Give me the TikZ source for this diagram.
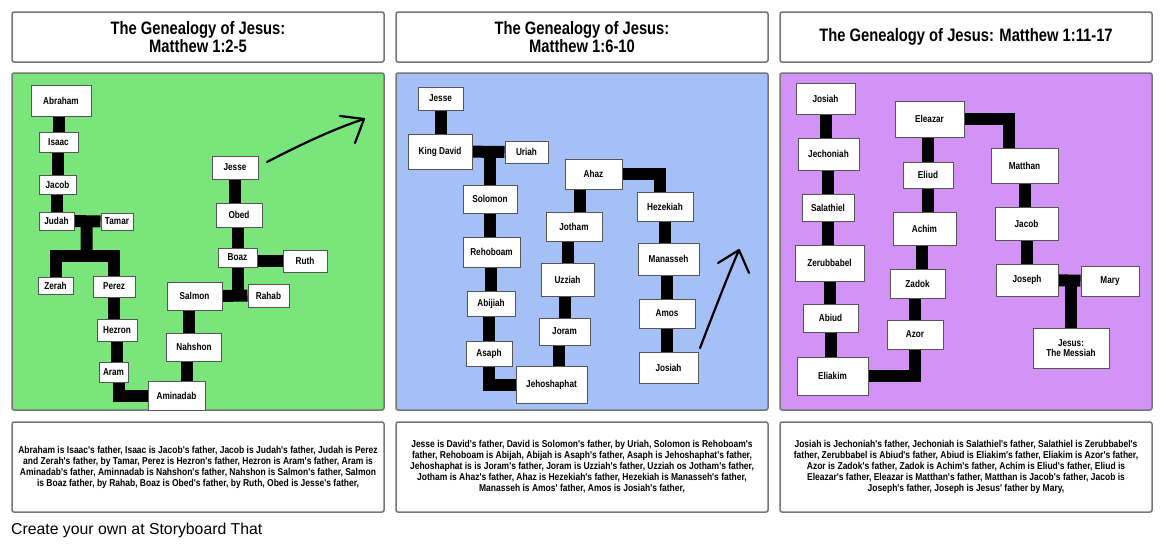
\documentclass[tikz,border=0pt]{standalone}
\usepackage{fontspec}
\setmainfont[FakeStretch=0.82]{Liberation Sans}
\newfontfamily\bodyfont[FakeStretch=0.85]{Liberation Sans}
\newfontfamily\footfont{Liberation Sans}
\usetikzlibrary{calc}
\pgfdeclarelayer{bg}\pgfdeclarelayer{mid}\pgfsetlayers{bg,mid,main}
\definecolor{pgreen}{RGB}{121,229,122}
\definecolor{pblue}{RGB}{165,192,247}
\definecolor{ppurple}{RGB}{210,146,246}
\definecolor{framegray}{RGB}{118,118,118}
\definecolor{boxedge}{RGB}{85,85,85}
\begin{document}
\begin{tikzpicture}[x=1pt,y=-1pt,
  pn/.style={draw=boxedge, line width=1pt, fill=white, inner sep=0pt, align=center,
    font=\bfseries\fontsize{10}{10}\selectfont},
  sz/.style 2 args={minimum width=#1pt, minimum height=#2pt},
  frame/.style={draw=framegray, line width=1.5pt, rounded corners=2pt},
  conn/.style={line width=12pt, line join=miter, black},
  hand/.style={line width=2.2pt, line cap=round, line join=round, black},
  ttl/.style={font=\bfseries\fontsize{18}{18}\selectfont, align=center},
  tb/.style={font=\bodyfont\bfseries\fontsize{10}{11}\selectfont, align=center}]
\useasboundingbox (0,0) rectangle (1165,550);
\begin{pgfonlayer}{bg}
\fill[white] (0,0) rectangle (1165,550);
\draw[frame, fill=white] (12,12) rectangle (384,62);
\draw[frame, fill=white] (396,12) rectangle (768,62);
\draw[frame, fill=white] (780,12) rectangle (1152,62);
\draw[frame, fill=pgreen] (12,73) rectangle (384,410);
\draw[frame, fill=pblue] (396,73) rectangle (768,410);
\draw[frame, fill=ppurple] (780,73) rectangle (1152,410);
\draw[frame, fill=white] (12,422) rectangle (384,512);
\draw[frame, fill=white] (396,422) rectangle (768,512);
\draw[frame, fill=white] (780,422) rectangle (1152,512);
\end{pgfonlayer}

% titles
\node[ttl] (t1) at (198,37) {The Genealogy of Jesus:\\Matthew 1:2-5};
\node[ttl] (t2) at (582,37) {The Genealogy of Jesus:\\Matthew 1:6-10};
\node[ttl] (t3) at (966,37) {The Genealogy of Jesus: Matthew 1:11-17};

% ---------- panel 1 ----------
\node[pn, sz={60}{31}] (abr) at (61,100.5) {Abraham};
\node[pn, sz={39}{20}] (isaac) at (58.5,142) {Isaac};
\node[pn, sz={37}{19}] (jacob1) at (57.5,184.5) {Jacob};
\node[pn, sz={35}{18}] (judah) at (56.5,221) {Judah};
\node[pn, sz={32}{17}] (tamar) at (117,221.5) {Tamar};
\node[pn, sz={35}{17}] (zerah) at (55.5,285.5) {Zerah};
\node[pn, sz={42}{21}] (perez) at (114,286.5) {Perez};
\node[pn, sz={40}{22}] (hezron) at (117,330) {Hezron};
\node[pn, sz={29}{20}] (aram) at (113.5,372) {Aram};
\node[pn, sz={57}{29}] (amin) at (176.5,396) {Aminadab};
\node[pn, sz={55}{28}] (salmon) at (194.5,296) {Salmon};
\node[pn, sz={55}{28}] (nahshon) at (194,347) {Nahshon};
\node[pn, sz={46}{23}] (jesse1) at (235,167.5) {Jesse};
\node[pn, sz={46}{24}] (obed) at (239,215) {Obed};
\node[pn, sz={39}{19}] (boaz) at (237.5,257.5) {Boaz};
\node[pn, sz={44}{22}] (ruth) at (305,261) {Ruth};
\node[pn, sz={41}{23}] (rahab) at (268.5,295.5) {Rahab};
\coordinate (split1) at (86.5,255.5);
\coordinate (ar) at ([xshift=5.5pt]aram.center);

% ---------- panel 2 ----------
\node[pn, sz={45}{23}] (jesse2) at (440.5,98.5) {Jesse};
\node[pn, sz={64}{35}] (david) at (440,151.5) {King David};
\node[pn, sz={43}{22}] (uriah) at (526.5,152) {Uriah};
\node[pn, sz={54}{28}] (solomon) at (490,199) {Solomon};
\node[pn, sz={57}{30}] (rehoboam) at (491.5,252) {Rehoboam};
\node[pn, sz={48}{25}] (abijiah) at (491,303.5) {Abijiah};
\node[pn, sz={46}{25}] (asaph) at (489,353.5) {Asaph};
\node[pn, sz={71}{37}] (jehosh) at (551.5,384.5) {Jehoshaphat};
\node[pn, sz={51}{27}] (joram) at (564.5,331.5) {Joram};
\node[pn, sz={53}{33}] (uzziah) at (567.5,279.5) {Uzziah};
\node[pn, sz={56}{29}] (jotham) at (574,226.5) {Jotham};
\node[pn, sz={57}{30}] (ahaz) at (593.5,174) {Ahaz};
\node[pn, sz={56}{29}] (hezekiah) at (665,206.5) {Hezekiah};
\node[pn, sz={61}{32}] (manasseh) at (668.5,259) {Manasseh};
\node[pn, sz={56}{29}] (amos) at (667,313.5) {Amos};
\node[pn, sz={59}{31}] (josiah2) at (668.5,367.5) {Josiah};
\coordinate (hz) at ([xshift=-5pt]hezekiah.center);

% ---------- panel 3 ----------
\node[pn, sz={59}{31}] (josiah3) at (825.5,98.5) {Josiah};
\node[pn, sz={61}{32}] (jech) at (828.5,154) {Jechoniah};
\node[pn, sz={52}{27}] (sala) at (828,207.5) {Salathiel};
\node[pn, sz={69}{36}] (zerub) at (829.5,263) {Zerubbabel};
\node[pn, sz={55}{28}] (abiud) at (830.5,318) {Abiud};
\node[pn, sz={71}{38}] (eliakim) at (832.5,376) {Eliakim};
\node[pn, sz={56}{29}] (azor) at (915,334.5) {Azor};
\node[pn, sz={55}{29}] (zadok) at (917.5,283.5) {Zadok};
\node[pn, sz={63}{33}] (achim) at (924.5,228.5) {Achim};
\node[pn, sz={50}{26}] (eliud) at (928,175) {Eliud};
\node[pn, sz={69}{36}] (eleazar) at (929.5,119) {Eleazar};
\node[pn, sz={67}{35}] (matthan) at (1024.5,165.5) {Matthan};
\node[pn, sz={63}{33}] (jacob3) at (1026.5,223.5) {Jacob};
\node[pn, sz={62}{32}] (joseph) at (1027,280) {Joseph};
\node[pn, sz={58}{30}] (mary) at (1110,281) {Mary};
\node[pn, sz={76}{40}, font=\bfseries\fontsize{10}{10.5}\selectfont] (jesus) at (1071,348) {Jesus:\\The Messiah};
\coordinate (mt) at ([xshift=-15.5pt]matthan.center);

% ---------- connectors ----------
\begin{pgfonlayer}{mid}
% panel 1
\draw[conn] (isaac) -- (isaac |- abr);
\draw[conn] (jacob1) -- (jacob1 |- isaac);
\draw[conn] (judah) -- (judah |- jacob1);
\draw[conn] (judah) -- (tamar);
\draw[conn] ($(judah)!0.5!(tamar)$) -- (split1);
\draw[conn] (zerah) -- (zerah |- split1) -- (perez |- split1) -- (perez);
\draw[conn] (perez) -- (perez |- hezron);
\draw[conn] (hezron) -- (hezron |- aram);
\draw[conn] (ar) -- (ar |- amin) -- (amin);
\draw[conn] ([xshift=10pt]amin.center) -- ([xshift=-7.5pt]nahshon.center);
\draw[conn] ([xshift=-6pt]salmon.center) -- ([xshift=-5.5pt]nahshon.center);
\draw[conn] (salmon) -- (rahab);
\draw[conn] (boaz) -- (boaz |- rahab);
\draw[conn] (ruth) -- (ruth -| boaz);
\draw[conn] (jesse1) -- (jesse1 |- obed);
\draw[conn] (boaz) -- (boaz |- obed);
% panel 2
\draw[conn] (jesse2) -- (jesse2 |- david);
\draw[conn] (david) -- (uriah);
\draw[conn] (solomon) -- (solomon |- uriah);
\draw[conn] (solomon) -- (solomon |- rehoboam);
\draw[conn] (abijiah) -- (abijiah |- rehoboam);
\draw[conn] (asaph) -- (asaph |- abijiah);
\draw[conn] (asaph) -- (asaph |- jehosh) -- (jehosh);
\draw[conn] ([xshift=7.5pt]jehosh.center) -- ([xshift=-5.5pt]joram.center);
\draw[conn] (joram) -- (joram |- uzziah);
\draw[conn] (uzziah) -- (uzziah |- jotham);
\draw[conn] ([xshift=5.5pt]jotham.center) -- ([xshift=-14pt]ahaz.center);
\draw[conn] (ahaz) -- (ahaz -| hz) -- (hz);
\draw[conn] (hezekiah) -- (hezekiah |- manasseh);
\draw[conn] (amos) -- (amos |- manasseh);
\draw[conn] (amos) -- (amos |- josiah2);
% panel 3
\draw[conn] (josiah3) -- (josiah3 |- jech);
\draw[conn] (sala) -- (sala |- jech);
\draw[conn] (sala) -- (sala |- zerub);
\draw[conn] (zerub) -- (zerub |- abiud);
\draw[conn] (abiud) -- (abiud |- eliakim);
\draw[conn] (eliakim) -- (eliakim -| azor) -- (azor);
\draw[conn] (azor) -- (azor |- zadok);
\draw[conn] ([xshift=4pt]zadok.center) -- ([xshift=-3pt]achim.center);
\draw[conn] (eliud) -- (eliud |- achim);
\draw[conn] (eliud) -- (eliud |- eleazar);
\draw[conn] (eleazar) -- (eleazar -| mt) -- (mt);
\draw[conn] (matthan) -- (matthan |- jacob3);
\draw[conn] (jacob3) -- (jacob3 |- joseph);
\draw[conn] (joseph) -- (mary);
\draw[conn] (jesus) -- (jesus |- mary);
\end{pgfonlayer}

% hand-drawn arrows
\coordinate (a1s) at (267,162);
\coordinate (a1t) at (364,119);
\coordinate (a1l) at (340,116);
\coordinate (a1r) at (355,143);
\draw[hand] (a1s) .. controls (290,150) and (330,130) .. (a1t);
\draw[hand] (a1l) -- (a1t) -- (a1r);
\coordinate (a2s) at (700,348);
\coordinate (a2t) at (739,250);
\coordinate (a2l) at (718,263);
\coordinate (a2r) at (749,273);
\draw[hand] (a2s) .. controls (710,322) and (728,275) .. (a2t);
\draw[hand] (a2l) -- (a2t) -- (a2r);

% descriptions
\node[tb] (d1) at (198,467) {Abraham is Isaac's father, Isaac is Jacob's father, Jacob is Judah's father, Judah is Perez\\
and Zerah's father, by Tamar, Perez is Hezron's father, Hezron is Aram's father, Aram is\\
Aminadab's father, Aminnadab is Nahshon's father, Nahshon is Salmon's father, Salmon\\
is Boaz father, by Rahab, Boaz is Obed's father, by Ruth, Obed is Jesse's father,};
\node[tb] (d2) at (582,467) {Jesse is David's father, David is Solomon's father, by Uriah, Solomon is Rehoboam's\\
father, Rehoboam is Abijah, Abijah is Asaph's father, Asaph is Jehoshaphat's father,\\
Jehoshaphat is is Joram's father, Joram is Uzziah's father, Uzziah os Jotham's father,\\
Jotham is Ahaz's father, Ahaz is Hezekiah's father, Hezekiah is Manasseh's father,\\
Manasseh is Amos' father, Amos is Josiah's father,};
\node[tb] (d3) at (966,467) {Josiah is Jechoniah's father, Jechoniah is Salathiel's father, Salathiel is Zerubbabel's\\
father, Zerubbabel is Abiud's father, Abiud is Eliakim's father, Eliakim is Azor's father,\\
Azor is Zadok's father, Zadok is Achim's father, Achim is Eliud's father, Eliud is\\
Eleazar's father, Eleazar is Matthan's father, Matthan is Jacob's father, Jacob is\\
Joseph's father, Joseph is Jesus' father by Mary,};

\node[anchor=west, inner sep=0pt, font=\footfont\fontsize{15.8}{16}\selectfont] (foot) at (11,530) {Create your own at Storyboard That};
\end{tikzpicture}
\end{document}
